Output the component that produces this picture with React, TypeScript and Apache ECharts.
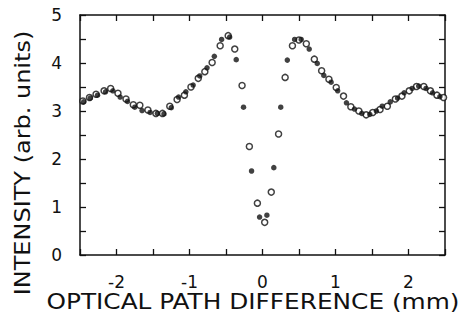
import React, { useEffect, useRef } from "react";
import * as echarts from "echarts";

const openX = [-2.46, -2.37, -2.28, -2.17, -2.08, -1.98, -1.87, -1.77, -1.68, -1.57, -1.46, -1.37, -1.27, -1.17, -1.07, -0.98, -0.88, -0.79, -0.69, -0.58, -0.47, -0.38, -0.28, -0.18, -0.07, 0.03, 0.12, 0.22, 0.31, 0.41, 0.5, 0.6, 0.71, 0.81, 0.91, 1.01, 1.11, 1.21, 1.32, 1.42, 1.51, 1.61, 1.71, 1.82, 1.91, 2.01, 2.11, 2.21, 2.3, 2.39, 2.48];
const openY = [3.21, 3.28, 3.35, 3.42, 3.47, 3.37, 3.25, 3.13, 3.12, 3.02, 2.95, 2.95, 3.1, 3.24, 3.33, 3.5, 3.68, 3.82, 4.01, 4.36, 4.57, 4.29, 3.53, 2.26, 1.08, 0.68, 1.31, 2.52, 3.7, 4.36, 4.48, 4.4, 4.08, 3.84, 3.66, 3.49, 3.31, 3.09, 3.0, 2.92, 2.97, 3.03, 3.1, 3.25, 3.31, 3.42, 3.51, 3.51, 3.42, 3.33, 3.28];

const filledX = [-2.45, -2.36, -2.26, -2.15, -2.05, -1.95, -1.85, -1.75, -1.65, -1.54, -1.44, -1.35, -1.25, -1.15, -1.05, -0.95, -0.86, -0.76, -0.66, -0.56, -0.45, -0.36, -0.26, -0.15, -0.04, 0.06, 0.155, 0.25, 0.34, 0.44, 0.53, 0.64, 0.75, 0.84, 0.94, 1.03, 1.15, 1.26, 1.36, 1.47, 1.56, 1.64, 1.75, 1.85, 1.94, 2.05, 2.14, 2.24, 2.33, 2.43];
const filledY = [3.19, 3.27, 3.33, 3.4, 3.42, 3.29, 3.2, 3.08, 3.01, 2.97, 2.95, 2.94, 3.07, 3.29, 3.4, 3.54, 3.73, 3.9, 4.14, 4.49, 4.54, 4.07, 3.08, 1.75, 0.79, 0.83, 1.82, 3.08, 4.06, 4.49, 4.49, 4.29, 3.99, 3.74, 3.6, 3.42, 3.17, 3.04, 2.95, 2.93, 3.0, 3.1, 3.19, 3.27, 3.38, 3.47, 3.52, 3.47, 3.38, 3.3];

const xTitle = "OPTICAL PATH DIFFERENCE (mm)";
const yTitle = "INTENSITY (arb. units)";

const FONT = "DejaVu Sans";
const INK = "#111";

export default function App() {
  const ref = useRef<HTMLDivElement>(null);
  useEffect(() => {
    if (!ref.current) return;
    const chart = echarts.init(ref.current, undefined, { renderer: "svg" });
    const intLabel = (v: number) => (Math.abs(v - Math.round(v)) < 1e-9 ? String(Math.round(v)) : "");
    const axisCommon = {
      type: "value" as const,
      interval: 0.5,
      axisLine: { show: true, onZero: false, lineStyle: { color: INK, width: 1.5 } },
      axisTick: { show: true, inside: true, length: 6, lineStyle: { color: INK, width: 1.3 } },
      splitLine: { show: false },
    };
    chart.setOption({
      animation: false,
      backgroundColor: "#fff",
      grid: { left: 80, right: 20, top: 15, bottom: 67 },
      xAxis: [
        {
          ...axisCommon,
          min: -2.5,
          max: 2.5,
          position: "bottom",
          axisLabel: { formatter: intLabel, margin: 18, fontFamily: FONT, fontSize: 17, color: INK },
        },
        {
          ...axisCommon,
          min: -2.5,
          max: 2.5,
          position: "top",
          axisLabel: { show: false },
        },
      ],
      yAxis: [
        {
          ...axisCommon,
          min: 0,
          max: 5,
          position: "left",
          axisLabel: { formatter: intLabel, margin: 18, fontFamily: FONT, fontSize: 17, color: INK },
        },
        {
          ...axisCommon,
          min: 0,
          max: 5,
          position: "right",
          axisLabel: { show: false },
        },
      ],
      graphic: [
        {
          type: "text",
          x: 253,
          y: 302,
          scaleX: 1.18,
          style: {
            text: xTitle,
            fontFamily: FONT,
            fontSize: 21,
            fill: INK,
            align: "center",
            verticalAlign: "middle",
          },
        },
        {
          type: "text",
          x: 22,
          y: 163,
          rotation: Math.PI / 2,
          scaleX: 1.09,
          style: {
            text: yTitle,
            fontFamily: FONT,
            fontSize: 22,
            fill: INK,
            align: "center",
            verticalAlign: "middle",
          },
        },
      ],
      series: [
        {
          type: "scatter",
          xAxisIndex: 0,
          yAxisIndex: 0,
          symbol: "circle",
          symbolSize: 6,
          itemStyle: { color: "#fff", borderColor: INK, borderWidth: 1.5 },
          data: openX.map((x, i) => [x, openY[i]]),
        },
        {
          type: "scatter",
          xAxisIndex: 0,
          yAxisIndex: 0,
          symbol: "circle",
          symbolSize: 5.5,
          itemStyle: { color: INK },
          data: filledX.map((x, i) => [x, filledY[i]]),
        },
      ],
    });
    return () => chart.dispose();
  }, []);
  return <div ref={ref} style={{ width: 465, height: 322, position: "absolute", left: 0, top: 0 }} />;
}
